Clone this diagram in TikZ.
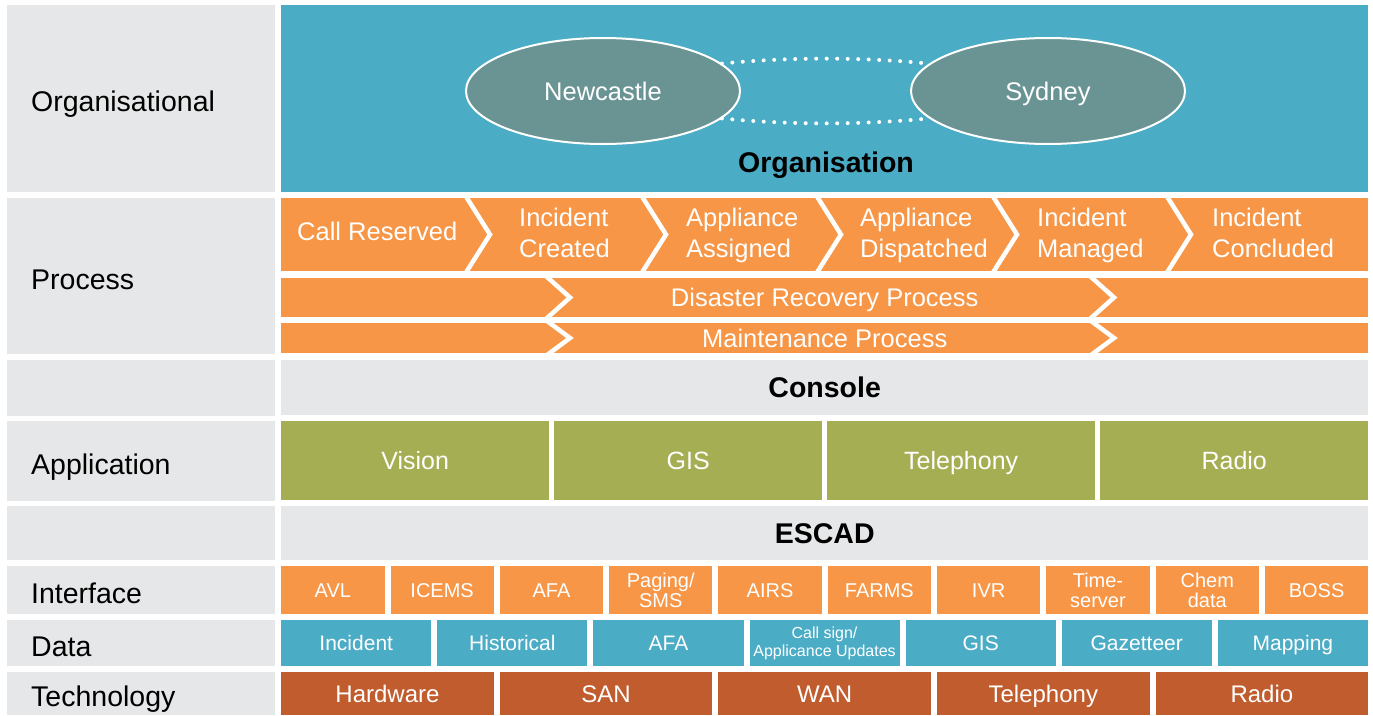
\documentclass[tikz,border=0pt]{standalone}
\usepackage{fontspec}
\setmainfont{Liberation Sans}
\usetikzlibrary{shapes.geometric}

\definecolor{layergrey}{HTML}{E6E7E8}
\definecolor{orgblue}{HTML}{4BACC6}
\definecolor{procorange}{HTML}{F79646}
\definecolor{appgreen}{HTML}{A5AE52}
\definecolor{techrust}{HTML}{C05C2D}
\definecolor{sitegrey}{HTML}{6A9493}

\begin{document}
\begin{tikzpicture}[
  x = 1pt, y = -1pt,
  oneline/.style = {text height=#1,text depth=0pt},
  head/.style = {anchor=north west,fill=layergrey,inner xsep=24pt,inner ysep=0pt,text width=220pt,align=left,oneline=26pt,font=\fontsize{28.5}{34}\selectfont},
  cell/.style = {anchor=north west,inner sep=0pt,text=white,align=center},
  bar/.style = {cell,minimum width=1087pt,fill=layergrey,text=black,oneline=20.5pt,font=\bfseries\fontsize{28.5}{34}\selectfont},
  site/.style = {ellipse,draw=white,line width=2pt,fill=sitegrey,text=white,minimum width=274pt,minimum height=106pt,inner sep=0pt,oneline=18.4pt,font=\fontsize{25.5}{30}\selectfont},
  link/.style = {white,line width=4pt,line cap=round,dash pattern=on 0pt off 10.5pt},
  cut/.style = {white,line width=4.5pt},
  stage/.style = {anchor=west,text=white,align=left,inner sep=0pt,execute at end node=\vphantom{g},font=\fontsize{25.5}{31}\selectfont},
  datum/.style = {cell,fill=orgblue,minimum width=150.1pt,minimum height=46pt,oneline=15.1pt,font=\fontsize{21}{24}\selectfont}
  ]
  \fill[white] (0,0) rectangle (1373,715);
  \useasboundingbox (0,0) rectangle (1373,715);

  % layer names
  \node[head,minimum height=187pt] (hOrg) at (7,5) {Organisational};
  \node[head,minimum height=156pt] (hProc) at (7,198) {Process};
  \node[head,minimum height=56pt] (hCon) at (7,360) {};
  \node[head,minimum height=80pt] (hApp) at (7,421) {Application};
  \node[head,minimum height=54pt] (hEsc) at (7,506) {};
  \node[head,minimum height=48pt] (hIf) at (7,566) {Interface};
  \node[head,minimum height=46pt] (hData) at (7,620) {Data};
  \node[head,minimum height=43pt] (hTech) at (7,672) {Technology};

  % organisation
  \node[cell,fill=orgblue,minimum width=1087pt,minimum height=187pt] (org) at (281,5) {};
  \node[site] (nc) at (603,91) {Newcastle};
  \node[site] (syd) at (1048,91) {Sydney};
  \draw[link] (nc.13) .. controls (790,57) and (860,57) .. (syd.167);
  \draw[link] (nc.-13) .. controls (790,125) and (860,125) .. (syd.-167);
  \node[oneline=20.5pt,font=\bfseries\fontsize{28.5}{34}\selectfont] (orgname) at (826,162) {Organisation};

  % process chain
  \node[cell,fill=procorange,minimum width=1087pt,minimum height=73pt] (proc) at (281,198) {};
  \begin{scope}
    \clip (proc.north west) rectangle (proc.south east);
    \foreach \x in {467,643,818,994,1168}
      \draw[cut] (\x-7,187) -- (\x+23,234.5) -- (\x-7,282);
  \end{scope}
  \node[stage,oneline=18.4pt] (s1) at (297,231) {Call Reserved};
  \node[stage] (s2) at (519,235) {Incident\\Created};
  \node[stage] (s3) at (686,235) {Appliance\\Assigned};
  \node[stage] (s4) at (860,235) {Appliance\\Dispatched};
  \node[stage] (s5) at (1037,235) {Incident\\Managed};
  \node[stage] (s6) at (1212,235) {Incident\\Concluded};

  \node[cell,fill=procorange,minimum width=1087pt,minimum height=39pt,oneline=18.4pt,font=\fontsize{25.5}{30}\selectfont] (drp) at (281,278) {Disaster Recovery Process};
  \node[cell,fill=procorange,minimum width=1087pt,minimum height=30pt,oneline=18.4pt,font=\fontsize{25.5}{30}\selectfont] (mnt) at (281,323) {Maintenance Process};
  \begin{scope}
    \clip (drp.north west) rectangle (drp.south east);
    \foreach \x in {570,1114}
      \draw[cut] (\x-28,272.5) -- (\x,297.5) -- (\x-28,322.5);
  \end{scope}
  \begin{scope}
    \clip (mnt.north west) rectangle (mnt.south east);
    \foreach \x in {570,1114}
      \draw[cut] (\x-27,318) -- (\x,338) -- (\x-27,358);
  \end{scope}

  % console and applications
  \node[bar,minimum height=55pt] (con) at (281,360) {Console};
  \foreach \txt [count=\i] in {Vision,GIS,Telephony,Radio}
    \node[cell,fill=appgreen,minimum width=268pt,minimum height=79pt,oneline=18pt,font=\fontsize{25}{30}\selectfont] (app\i) at ({281+(\i-1)*273},421) {\txt};

  % escad and interfaces
  \node[bar,minimum height=54pt] (esc) at (281,506) {ESCAD};
  \foreach \txt [count=\i] in {AVL,ICEMS,AFA,{Paging/\\SMS},AIRS,FARMS,IVR,{Time-\\server},{Chem\\data},BOSS}
    \node[cell,fill=procorange,minimum width=103.3pt,minimum height=48pt,font=\fontsize{20}{20}\selectfont] (if\i) at ({281+(\i-1)*109.3},566) {\txt};

  % data
  \node[datum] (dat1) at (281,620) {Incident};
  \node[datum] (dat2) at (437.1,620) {Historical};
  \node[datum] (dat3) at (593.2,620) {AFA};
  \node[cell,fill=orgblue,minimum width=150.1pt,minimum height=46pt,font=\fontsize{16}{18}\selectfont] (dat4) at (749.3,620) {Call sign/\\Applicance Updates};
  \node[datum] (dat5) at (905.4,620) {GIS};
  \node[datum] (dat6) at (1061.5,620) {Gazetteer};
  \node[datum] (dat7) at (1217.6,620) {Mapping};

  % technology
  \foreach \txt [count=\i] in {Hardware,SAN,WAN,Telephony,Radio}
    \node[cell,fill=techrust,minimum width=212.6pt,minimum height=43pt,oneline=17.3pt,font=\fontsize{24}{28}\selectfont] (tec\i) at ({281+(\i-1)*218.6},672) {\txt};
\end{tikzpicture}
\end{document}
